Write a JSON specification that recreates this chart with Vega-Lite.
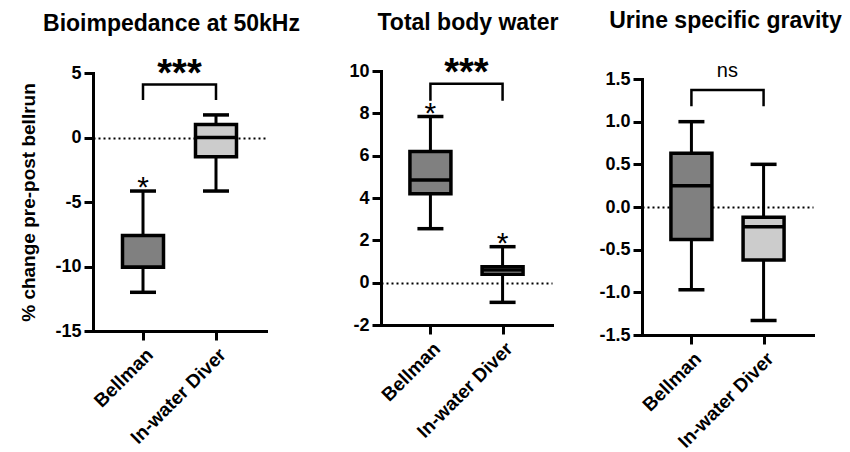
{
  "$schema": "https://vega.github.io/schema/vega-lite/v6.json",
  "background": "white",
  "padding": {"left": 19, "top": 10, "right": 0, "bottom": 0},
  "config": {
    "font": "Liberation Sans",
    "view": {"stroke": null},
    "axis": {
      "domainColor": "black", "domainWidth": 3, "domainCap": "square",
      "tickColor": "black", "tickWidth": 3, "tickSize": 9,
      "labelColor": "black", "labelFontSize": 18, "labelFontWeight": "bold", "labelPadding": 3,
      "titleColor": "black", "titleFontSize": 19, "titleFontWeight": "bold",
      "grid": false
    },
    "axisX": {"labelPadding": 5, "labelFontSize": 19},
    "axisY": {"labelExpr": "replace(datum.label, '\u2212', '-')"},
    "title": {"fontSize": 23, "fontWeight": "bold", "color": "black", "frame": "group", "anchor": "middle", "offset": 20}
  },
  "datasets": {
    "boxes": [
      {"panel": "A", "group": "Bellman", "lo": -12.0, "q1": -10.05, "med": -10.05, "q3": -7.6, "hi": -4.15, "sig": "*"},
      {"panel": "A", "group": "In-water Diver", "lo": -4.15, "q1": -1.5, "med": 0.0, "q3": 1.0, "hi": 1.75, "sig": ""},
      {"panel": "B", "group": "Bellman", "lo": 2.55, "q1": 4.2, "med": 4.85, "q3": 6.2, "hi": 7.85, "sig": "*"},
      {"panel": "B", "group": "In-water Diver", "lo": -0.93, "q1": 0.4, "med": 0.6, "q3": 0.75, "hi": 1.7, "sig": "*"},
      {"panel": "C", "group": "Bellman", "lo": -0.97, "q1": -0.38, "med": 0.25, "q3": 0.63, "hi": 1.0, "sig": ""},
      {"panel": "C", "group": "In-water Diver", "lo": -1.33, "q1": -0.62, "med": -0.23, "q3": -0.12, "hi": 0.5, "sig": ""}
    ],
    "brackets": [
      {"panel": "A", "group": "Bellman", "y": 2.9, "ord": 1},
      {"panel": "A", "group": "Bellman", "y": 4.1, "ord": 2},
      {"panel": "A", "group": "In-water Diver", "y": 4.1, "ord": 3},
      {"panel": "A", "group": "In-water Diver", "y": 2.9, "ord": 4},
      {"panel": "B", "group": "Bellman", "y": 8.6, "ord": 1},
      {"panel": "B", "group": "Bellman", "y": 9.4, "ord": 2},
      {"panel": "B", "group": "In-water Diver", "y": 9.4, "ord": 3},
      {"panel": "B", "group": "In-water Diver", "y": 8.6, "ord": 4},
      {"panel": "C", "group": "Bellman", "y": 1.18, "ord": 1},
      {"panel": "C", "group": "Bellman", "y": 1.37, "ord": 2},
      {"panel": "C", "group": "In-water Diver", "y": 1.37, "ord": 3},
      {"panel": "C", "group": "In-water Diver", "y": 1.18, "ord": 4}
    ],
    "annot": [
      {"panel": "A", "group": "Bellman", "y": 4.1, "label": "***"},
      {"panel": "B", "group": "Bellman", "y": 9.4, "label": "***"},
      {"panel": "C", "group": "Bellman", "y": 1.37, "label": "ns"}
    ]
  },
  "bounds": "flush",
  "spacing": 0,
  "hconcat": [
    {
      "width": 173, "height": 264,
      "title": {"text": "Bioimpedance at 50kHz", "dx": -8},
      "layer": [
        {
          "data": {"name": "boxes"}, "transform": [{"filter": "datum.panel === 'A'"}],
          "mark": {"type": "rule", "strokeWidth": 3, "color": "black"},
          "encoding": {
            "x": {"field": "group", "type": "nominal", "scale": {"type": "point", "domain": ["Bellman", "In-water Diver"], "range": [0, 173], "padding": 0.685}, "axis": {"title": null, "labelAngle": -45, "offset": -4}},
            "y": {"field": "lo", "type": "quantitative", "scale": {"domain": [-15, 5], "range": [260, 2], "nice": false, "zero": false},
                  "axis": {"title": "% change pre-post bellrun", "titlePadding": 16, "values": [-15, -10, -5, 0, 5], "grid": true, "gridColor": "black", "gridWidth": 2, "gridDash": [2, 3], "gridOpacity": {"condition": {"test": "datum.value === 0", "value": 1}, "value": 0}}},
            "y2": {"field": "hi"}
          }
        },
        {
          "data": {"name": "boxes"}, "transform": [{"filter": "datum.panel === 'A'"}],
          "mark": {"type": "tick", "size": 26, "thickness": 3.5, "color": "black", "opacity": 1},
          "encoding": {"x": {"field": "group", "type": "nominal"}, "y": {"field": "lo", "type": "quantitative"}}
        },
        {
          "data": {"name": "boxes"}, "transform": [{"filter": "datum.panel === 'A'"}],
          "mark": {"type": "tick", "size": 26, "thickness": 3.5, "color": "black", "opacity": 1},
          "encoding": {"x": {"field": "group", "type": "nominal"}, "y": {"field": "hi", "type": "quantitative"}}
        },
        {
          "data": {"name": "boxes"}, "transform": [{"filter": "datum.panel === 'A'"}],
          "mark": {"type": "bar", "width": 41, "stroke": "black", "strokeWidth": 3.5},
          "encoding": {
            "x": {"field": "group", "type": "nominal"},
            "y": {"field": "q1", "type": "quantitative"}, "y2": {"field": "q3"},
            "fill": {"field": "group", "type": "nominal", "scale": {"domain": ["Bellman", "In-water Diver"], "range": ["#808080", "#cccccc"]}, "legend": null}
          }
        },
        {
          "data": {"name": "boxes"}, "transform": [{"filter": "datum.panel === 'A'"}],
          "mark": {"type": "tick", "size": 41, "thickness": 3.5, "color": "black", "opacity": 1},
          "encoding": {"x": {"field": "group", "type": "nominal"}, "y": {"field": "med", "type": "quantitative"}}
        },
        {
          "data": {"name": "boxes"}, "transform": [{"filter": "datum.panel === 'A'"}],
          "mark": {"type": "text", "fontSize": 30, "baseline": "alphabetic", "align": "center", "dy": 6, "color": "black"},
          "encoding": {"x": {"field": "group", "type": "nominal"}, "y": {"field": "hi", "type": "quantitative"}, "text": {"field": "sig"}}
        },
        {
          "data": {"name": "brackets"}, "transform": [{"filter": "datum.panel === 'A'"}],
          "mark": {"type": "line", "strokeWidth": 2.5, "color": "black", "strokeJoin": "miter", "strokeCap": "butt"},
          "encoding": {"x": {"field": "group", "type": "nominal"}, "y": {"field": "y", "type": "quantitative"}, "order": {"field": "ord"}}
        },
        {
          "data": {"name": "annot"}, "transform": [{"filter": "datum.panel === 'A'"}],
          "mark": {"type": "text", "fontSize": 38, "fontWeight": "bold", "baseline": "alphabetic", "align": "center", "dx": 36.5, "dy": 1, "color": "black"},
          "encoding": {"x": {"field": "group", "type": "nominal"}, "y": {"field": "y", "type": "quantitative"}, "text": {"field": "label"}}
        }
      ]
    },
    {
      "width": 286, "height": 264,
      "title": {"text": "Total body water", "dx": 59},
      "layer": [
        {
          "data": {"name": "boxes"}, "transform": [{"filter": "datum.panel === 'B'"}],
          "mark": {"type": "rule", "strokeWidth": 3, "color": "black"},
          "encoding": {
            "x": {"field": "group", "type": "nominal", "scale": {"type": "point", "domain": ["Bellman", "In-water Diver"], "range": [115, 286], "padding": 0.685}, "axis": {"title": null, "labelAngle": -45, "offset": -10}},
            "y": {"field": "lo", "type": "quantitative", "scale": {"domain": [-2, 10], "range": [254, 0], "nice": false, "zero": false},
                  "axis": {"title": null, "offset": -115, "values": [-2, 0, 2, 4, 6, 8, 10], "grid": true, "gridColor": "black", "gridWidth": 2, "gridDash": [2, 3], "gridOpacity": {"condition": {"test": "datum.value === 0", "value": 1}, "value": 0}}},
            "y2": {"field": "hi"}
          }
        },
        {
          "data": {"name": "boxes"}, "transform": [{"filter": "datum.panel === 'B'"}],
          "mark": {"type": "tick", "size": 26, "thickness": 3.5, "color": "black", "opacity": 1},
          "encoding": {"x": {"field": "group", "type": "nominal"}, "y": {"field": "lo", "type": "quantitative"}}
        },
        {
          "data": {"name": "boxes"}, "transform": [{"filter": "datum.panel === 'B'"}],
          "mark": {"type": "tick", "size": 26, "thickness": 3.5, "color": "black", "opacity": 1},
          "encoding": {"x": {"field": "group", "type": "nominal"}, "y": {"field": "hi", "type": "quantitative"}}
        },
        {
          "data": {"name": "boxes"}, "transform": [{"filter": "datum.panel === 'B'"}],
          "mark": {"type": "bar", "width": 41, "stroke": "black", "strokeWidth": 3.5},
          "encoding": {
            "x": {"field": "group", "type": "nominal"},
            "y": {"field": "q1", "type": "quantitative"}, "y2": {"field": "q3"},
            "fill": {"field": "group", "type": "nominal", "scale": {"domain": ["Bellman", "In-water Diver"], "range": ["#808080", "#cccccc"]}, "legend": null}
          }
        },
        {
          "data": {"name": "boxes"}, "transform": [{"filter": "datum.panel === 'B'"}],
          "mark": {"type": "tick", "size": 41, "thickness": 3.5, "color": "black", "opacity": 1},
          "encoding": {"x": {"field": "group", "type": "nominal"}, "y": {"field": "med", "type": "quantitative"}}
        },
        {
          "data": {"name": "boxes"}, "transform": [{"filter": "datum.panel === 'B'"}],
          "mark": {"type": "text", "fontSize": 30, "baseline": "alphabetic", "align": "center", "dy": 6, "color": "black"},
          "encoding": {"x": {"field": "group", "type": "nominal"}, "y": {"field": "hi", "type": "quantitative"}, "text": {"field": "sig"}}
        },
        {
          "data": {"name": "brackets"}, "transform": [{"filter": "datum.panel === 'B'"}],
          "mark": {"type": "line", "strokeWidth": 2.5, "color": "black", "strokeJoin": "miter", "strokeCap": "butt"},
          "encoding": {"x": {"field": "group", "type": "nominal"}, "y": {"field": "y", "type": "quantitative"}, "order": {"field": "ord"}}
        },
        {
          "data": {"name": "annot"}, "transform": [{"filter": "datum.panel === 'B'"}],
          "mark": {"type": "text", "fontSize": 38, "fontWeight": "bold", "baseline": "alphabetic", "align": "center", "dx": 36, "dy": 1, "color": "black"},
          "encoding": {"x": {"field": "group", "type": "nominal"}, "y": {"field": "y", "type": "quantitative"}, "text": {"field": "label"}}
        }
      ]
    },
    {
      "width": 261, "height": 264,
      "title": {"text": "Urine specific gravity", "dx": 43, "dy": -8},
      "layer": [
        {
          "data": {"name": "boxes"}, "transform": [{"filter": "datum.panel === 'C'"}],
          "mark": {"type": "rule", "strokeWidth": 3, "color": "black"},
          "encoding": {
            "x": {"field": "group", "type": "nominal", "scale": {"type": "point", "domain": ["Bellman", "In-water Diver"], "range": [90, 261], "padding": 0.685}, "axis": {"title": null, "labelAngle": -45, "offset": 0}},
            "y": {"field": "lo", "type": "quantitative", "scale": {"domain": [-1.5, 1.5], "range": [264, 8], "nice": false, "zero": false},
                  "axis": {"title": null, "offset": -90, "format": ".1f", "values": [-1.5, -1, -0.5, 0, 0.5, 1, 1.5], "grid": true, "gridColor": "black", "gridWidth": 2, "gridDash": [2, 3], "gridOpacity": {"condition": {"test": "datum.value === 0", "value": 1}, "value": 0}}},
            "y2": {"field": "hi"}
          }
        },
        {
          "data": {"name": "boxes"}, "transform": [{"filter": "datum.panel === 'C'"}],
          "mark": {"type": "tick", "size": 26, "thickness": 3.5, "color": "black", "opacity": 1},
          "encoding": {"x": {"field": "group", "type": "nominal"}, "y": {"field": "lo", "type": "quantitative"}}
        },
        {
          "data": {"name": "boxes"}, "transform": [{"filter": "datum.panel === 'C'"}],
          "mark": {"type": "tick", "size": 26, "thickness": 3.5, "color": "black", "opacity": 1},
          "encoding": {"x": {"field": "group", "type": "nominal"}, "y": {"field": "hi", "type": "quantitative"}}
        },
        {
          "data": {"name": "boxes"}, "transform": [{"filter": "datum.panel === 'C'"}],
          "mark": {"type": "bar", "width": 41, "stroke": "black", "strokeWidth": 3.5},
          "encoding": {
            "x": {"field": "group", "type": "nominal"},
            "y": {"field": "q1", "type": "quantitative"}, "y2": {"field": "q3"},
            "fill": {"field": "group", "type": "nominal", "scale": {"domain": ["Bellman", "In-water Diver"], "range": ["#808080", "#cccccc"]}, "legend": null}
          }
        },
        {
          "data": {"name": "boxes"}, "transform": [{"filter": "datum.panel === 'C'"}],
          "mark": {"type": "tick", "size": 41, "thickness": 3.5, "color": "black", "opacity": 1},
          "encoding": {"x": {"field": "group", "type": "nominal"}, "y": {"field": "med", "type": "quantitative"}}
        },
        {
          "data": {"name": "brackets"}, "transform": [{"filter": "datum.panel === 'C'"}],
          "mark": {"type": "line", "strokeWidth": 2.5, "color": "black", "strokeJoin": "miter", "strokeCap": "butt"},
          "encoding": {"x": {"field": "group", "type": "nominal"}, "y": {"field": "y", "type": "quantitative"}, "order": {"field": "ord"}}
        },
        {
          "data": {"name": "annot"}, "transform": [{"filter": "datum.panel === 'C'"}],
          "mark": {"type": "text", "fontSize": 20, "baseline": "alphabetic", "align": "center", "dx": 36, "dy": -13, "color": "black"},
          "encoding": {"x": {"field": "group", "type": "nominal"}, "y": {"field": "y", "type": "quantitative"}, "text": {"field": "label"}}
        }
      ]
    }
  ]
}
